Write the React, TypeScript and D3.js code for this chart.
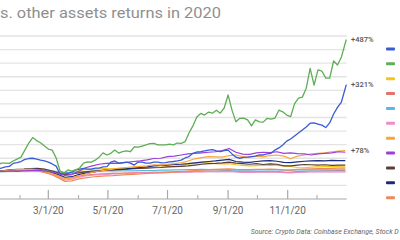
import React from "react";
import * as d3 from "d3";

// ---- Data ----
const seriesNames = [
  "Bitcoin", "Ethereum", "Gold", "Oil", "Bonds", "Dow",
  "Apple", "Amazon", "S&P 500", "Nasdaq", "Silver",
];
const seriesColors = [
  "#3a5bd6", "#5eae55", "#f4c51c", "#e8706a", "#5ab8e0", "#f08cc8",
  "#f9a53c", "#9b3fd6", "#5a3e36", "#1c2a7a", "#f0895a",
];

// crypto series sampled every 4 days (plus Dec 31)
const btcValues = [
  0, 7, 10, 14, 18, 20, 31, 34, 38, 46, 49, 50, 47, 43, 40, 36, 29, 21, -8, -4,
  -6, -1, 7, 10, 13, 10, 10, 14, 14, 18, 19, 36, 40, 32, 34, 36, 32, 25, 36, 36,
  32, 32, 36, 36, 33, 34, 37, 38, 40, 43, 51, 56, 68, 73, 74, 77, 80, 82, 77, 74,
  78, 80, 66, 54, 50, 53, 54, 56, 58, 62, 62, 66, 68, 80, 88, 99, 113, 121, 132, 143,
  154, 165, 179, 180, 176, 172, 163, 180, 213, 237, 257, 321,
];
const ethValues = [
  0, 14, 25, 32, 32, 31, 40, 47, 54, 80, 106, 126, 115, 107, 95, 84, 80, 51, 3, -4,
  7, 3, 7, 14, 32, 37, 36, 43, 54, 70, 62, 68, 80, 69, 74, 77, 74, 92, 91, 95,
  99, 104, 105, 99, 99, 99, 102, 99, 106, 105, 111, 143, 169, 202, 215, 209, 220, 216, 227, 216,
  235, 283, 227, 184, 197, 198, 191, 169, 191, 184, 183, 197, 194, 198, 227, 221, 209, 203, 250, 271,
  275, 308, 381, 319, 375, 371, 345, 345, 408, 393, 423, 487,
];

// other assets sampled weekly
const goldValues = [
  0, 2, 4, 3, 5, 6, 8, 10, 9, 5, -2, -6, -3, 4, 8, 10, 11, 12, 11, 12,
  13, 12, 14, 15, 16, 17, 18, 21, 24, 28, 32, 34, 33, 30, 29, 30, 26, 24, 22, 23,
  24, 25, 24, 22, 20, 16, 15, 17, 18, 19, 20, 19, 18,
];
const oilValues = [
  0, 1, 2, 2, 3, 3, 4, 4, 1, -6, -14, -24, -22, -16, -12, -10, -8, -7, -6, -6,
  -5, -4, -3, -3, -2, -2, -1, 0, 1, 1, 2, 2, 3, 3, 4, 5, 2, 0, 0, 1,
  1, 2, 1, -1, -2, 1, 2, 3, 3, 4, 4, 5, 5,
];
const bondValues = [
  0, 1, 1, 2, 2, 3, 3, 4, 5, 4, 1, -3, -2, 0, 1, 2, 3, 3, 3, 4,
  4, 4, 5, 5, 5, 6, 6, 7, 7, 8, 8, 9, 8, 8, 7, 7, 6, 6, 6, 7,
  7, 7, 7, 6, 6, 7, 7, 7, 7, 7, 7, 7, 7,
];
const dowValues = [
  0, 1, 2, 2, 3, 3, 4, 3, -1, -8, -18, -30, -27, -20, -15, -12, -10, -9, -8, -7,
  -6, -5, -4, -4, -3, -3, -2, -2, -1, -1, 0, 0, 1, 1, 1, 2, 0, -2, -2, -1,
  -1, 0, -1, -3, -4, -2, -1, 0, 0, 0, 0, 0, 0,
];
const appleValues = [
  0, 2, 4, 6, 8, 9, 10, 8, 2, -5, -15, -25, -22, -15, -8, -2, 3, 6, 10, 14,
  16, 18, 20, 22, 26, 25, 28, 30, 33, 40, 48, 52, 56, 55, 54, 60, 62, 56, 54, 58,
  55, 60, 62, 58, 48, 58, 62, 66, 68, 70, 74, 76, 78,
];
const amazonValues = [
  0, 1, 2, 3, 2, 4, 5, 6, 3, 0, -6, -13, -10, 2, 15, 22, 28, 31, 32, 31,
  35, 38, 40, 44, 49, 50, 56, 58, 62, 66, 68, 70, 72, 74, 78, 86, 72, 65, 64, 70,
  72, 71, 74, 68, 70, 67, 66, 62, 66, 68, 70, 74, 72,
];
const spValues = [
  0, 3, 5, 7, 9, 10, 12, 13, 10, 4, -4, -10, -8, -4, 0, 3, 5, 6, 7, 8,
  10, 12, 13, 14, 15, 16, 18, 19, 20, 22, 25, 28, 30, 31, 33, 36, 32, 30, 28, 30,
  27, 29, 28, 22, 22, 25, 27, 26, 25, 26, 24, 25, 25,
];
const nasdaqValues = [
  0, 2, 4, 6, 8, 9, 11, 10, 3, -2, -10, -20, -18, -10, -5, -2, 3, 6, 8, 10,
  11, 14, 16, 18, 22, 24, 25, 27, 28, 30, 33, 36, 38, 40, 43, 46, 38, 36, 35, 38,
  40, 41, 39, 35, 34, 37, 39, 40, 41, 40, 42, 41, 41,
];
const silverValues = [
  0, 1, 2, 3, 3, 4, 4, 3, -2, -10, -22, -35, -33, -26, -22, -19, -17, -15, -14, -12,
  -10, -9, -8, -6, -5, -4, -3, -1, 1, 3, 5, 6, 8, 9, 10, 11, 9, 8, 8, 9,
  9, 10, 9, 7, 6, 9, 10, 11, 12, 12, 13, 14, 14,
];

const endLabels = ["+487%", "+321%", "+78%"];
const endLabelValues = [487, 321, 78];

const yTicks = d3.range(-100, 501, 50);
const sourceText = "Source: Crypto Data: Coinbase Exchange, Stock D";
const titleText = "s. other assets returns in 2020";

// ---- Dates ----
const start = new Date(2020, 0, 1);
const end = new Date(2020, 11, 31);
const dates4 = d3.range(0, 361, 4).map((d) => d3.timeDay.offset(start, d)).concat([end]);
const dates7 = d3.range(0, 365, 7).map((d) => d3.timeDay.offset(start, d));

export default function App() {
  const x = d3.scaleTime().domain([start, end]).range([-10.3, 346.3]);
  const y = d3.scaleLinear().domain([-100, 500]).range([199, 36]);
  const line = d3
    .line<[Date, number]>()
    .x((d) => x(d[0]))
    .y((d) => y(d[1]))
    .curve(d3.curveLinear);

  const weekly = [
    goldValues, oilValues, bondValues, dowValues, silverValues,
    spValues, nasdaqValues, appleValues, amazonValues,
  ];
  const weeklyIdx = [2, 3, 4, 5, 10, 8, 9, 6, 7];

  const majorTicks = [2, 4, 6, 8, 10].map((m) => new Date(2020, m, 1));
  const minorTicks = [1, 3, 5, 7, 9, 11].map((m) => new Date(2020, m, 1));
  const fmt = d3.timeFormat("%-m/%-d/%y");
  const font = "Roboto, 'Open Sans', sans-serif";

  return (
    <svg
      width={400}
      height={240}
      style={{ position: "fixed", left: 0, top: 0, background: "#fff" }}
    >
      <rect width={400} height={240} fill="#fff" />
      <text
        x={0}
        y={18}
        fontFamily={font}
        fontSize={15.5}
        fill="#8f8f8f"
        textLength={221}
        lengthAdjust="spacingAndGlyphs"
      >
        {titleText}
      </text>

      {yTicks.map((t) => (
        <line
          key={t}
          x1={0}
          x2={346.7}
          y1={y(t)}
          y2={y(t)}
          stroke={t === -100 ? "#a8a8a8" : "#e3e3e3"}
          strokeWidth={t === -100 ? 1.2 : 1.3}
        />
      ))}

      {majorTicks.map((d, i) => (
        <g key={"M" + i}>
          <line x1={x(d)} x2={x(d)} y1={y(-100)} y2={y(-100) - 9} stroke="#a8a8a8" strokeWidth={1.2} />
          <text
            x={x(d)}
            y={214}
            textAnchor="middle"
            fontFamily={font}
            fontSize={10}
            fill="#666"
          >
            {fmt(d)}
          </text>
        </g>
      ))}
      {minorTicks.map((d, i) => (
        <line key={"m" + i} x1={x(d)} x2={x(d)} y1={y(-100)} y2={y(-100) - 4} stroke="#a8a8a8" strokeWidth={1} />
      ))}

      {weekly.map((vals, i) => (
        <path
          key={"w" + i}
          d={line(vals.map((v, j) => [dates7[j], v] as [Date, number])) || ""}
          fill="none"
          stroke={seriesColors[weeklyIdx[i]]}
          strokeWidth={1.2}
          strokeLinejoin="round"
        />
      ))}
      <path
        d={line(btcValues.map((v, j) => [dates4[j], v] as [Date, number])) || ""}
        fill="none"
        stroke={seriesColors[0]}
        strokeWidth={1.3}
        strokeLinejoin="round"
      />
      <path
        d={line(ethValues.map((v, j) => [dates4[j], v] as [Date, number])) || ""}
        fill="none"
        stroke={seriesColors[1]}
        strokeWidth={1.3}
        strokeLinejoin="round"
      />

      {endLabels.map((l, i) => (
        <text
          key={l}
          x={351}
          y={y(endLabelValues[i]) + 2.5}
          fontFamily={font}
          fontSize={7.5}
          fill="#555"
          fontWeight={500}
        >
          {l}
        </text>
      ))}

      {seriesNames.map((n, i) => (
        <rect
          key={n}
          x={386}
          y={49 + i * 14.87 - 1.5}
          width={9}
          height={3}
          rx={1}
          fill={seriesColors[i]}
        />
      ))}

      <text
        x={250.7}
        y={234}
        fontFamily={font}
        fontSize={7}
        fontStyle="italic"
        fill="#666"
        textLength={148}
        lengthAdjust="spacingAndGlyphs"
      >
        {sourceText}
      </text>
    </svg>
  );
}
